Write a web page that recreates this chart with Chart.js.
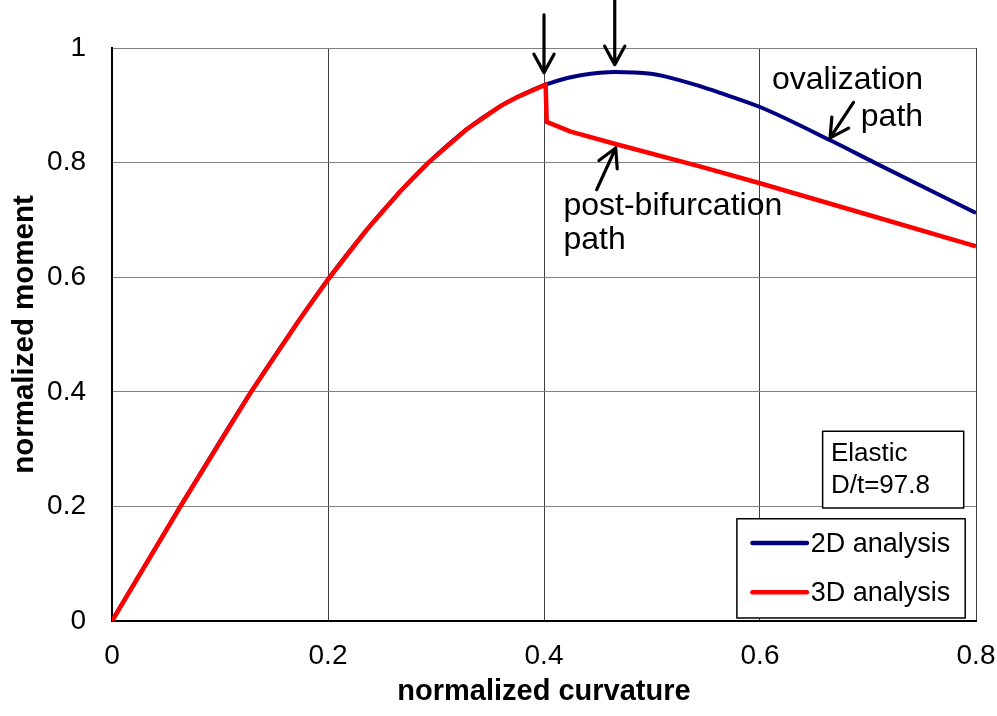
<!DOCTYPE html>
<html>
<head>
<meta charset="utf-8">
<title>normalized moment vs curvature</title>
<script src="https://cdn.jsdelivr.net/npm/chart.js@4.4.1/dist/chart.umd.min.js"></script>
<style>
    html, body { margin: 0; padding: 0; background: #fff; }
</style>
</head>
<body>
<canvas id="momentChart" width="997" height="716"></canvas>
<script>
// Pre-buckling path, shared by the 2D and 3D analyses
const loadCurv = [0, 0.064, 0.1295, 0.174, 0.2, 0.236, 0.267, 0.293, 0.329, 0.36, 0.375, 0.4015];
const loadMom  = [0, 0.202, 0.402, 0.527, 0.596, 0.683, 0.75, 0.8, 0.859, 0.899, 0.914, 0.936];

// 2D analysis: ovalization path
const ovalCurv = [0.4216, 0.434, 0.466, 0.499, 0.511, 0.545, 0.561, 0.6, 0.666, 0.706, 0.8];
const ovalMom  = [0.9476, 0.9525, 0.958, 0.955, 0.951, 0.933, 0.923, 0.897, 0.838, 0.8, 0.712];

// 3D analysis: post-bifurcation path
const bifCurv = [0.4025, 0.4247, 0.467, 0.545, 0.6, 0.7, 0.8];
const bifMom  = [0.871, 0.854, 0.832, 0.793, 0.764, 0.709, 0.654];

// Axis ticks
const curvTicks = [0, 0.2, 0.4, 0.6, 0.8];
const momTicks  = [0, 0.2, 0.4, 0.6, 0.8, 1];

const FONT = '"Liberation Sans", Arial, Helvetica, sans-serif';

function toPoints(xs, ys) {
    return xs.map((x, i) => ({ x: x, y: ys[i] }));
}

function drawArrow(ctx, x1, y1, x2, y2) {
    const ang = Math.atan2(y2 - y1, x2 - x1);
    const head = 21;
    const spread = 0.5;
    ctx.beginPath();
    ctx.moveTo(x1, y1);
    ctx.lineTo(x2, y2);
    ctx.moveTo(x2 - head * Math.cos(ang - spread), y2 - head * Math.sin(ang - spread));
    ctx.lineTo(x2, y2);
    ctx.lineTo(x2 - head * Math.cos(ang + spread), y2 - head * Math.sin(ang + spread));
    ctx.stroke();
}

// Arrows, labels, parameter box and legend
const annotationPlugin = {
    id: 'annotations',
    afterDraw(chart) {
        const { ctx } = chart;
        const px = v => chart.scales.x.getPixelForValue(v);
        const py = v => chart.scales.y.getPixelForValue(v);

        ctx.save();
        ctx.strokeStyle = '#000';
        ctx.fillStyle = '#000';
        ctx.lineWidth = 3.2;
        ctx.lineCap = 'round';
        ctx.lineJoin = 'round';

        // bifurcation and limit-moment arrows
        drawArrow(ctx, px(0.4), py(1.058), px(0.4), py(0.957));
        drawArrow(ctx, px(0.4655), py(1.084), px(0.4655), py(0.971));
        // path arrows
        drawArrow(ctx, px(0.6866), py(0.905), px(0.6649), py(0.843));
        drawArrow(ctx, px(0.4488), py(0.7527), px(0.4664), py(0.8255));

        // path labels
        ctx.font = '32px ' + FONT;
        ctx.textBaseline = 'alphabetic';
        ctx.textAlign = 'right';
        ctx.fillText('ovalization', px(0.751), py(0.929));
        ctx.fillText('path', px(0.751), py(0.864));
        ctx.textAlign = 'left';
        ctx.fillText('post-bifurcation', px(0.418), py(0.708));
        ctx.fillText('path', px(0.418), py(0.649));

        // parameter box
        ctx.lineWidth = 1.5;
        ctx.lineCap = 'butt';
        ctx.fillStyle = '#fff';
        ctx.fillRect(px(0.658), py(0.331), px(0.7886) - px(0.658), py(0.197) - py(0.331));
        ctx.strokeRect(px(0.658), py(0.331), px(0.7886) - px(0.658), py(0.197) - py(0.331));
        ctx.fillStyle = '#000';
        ctx.font = '26px ' + FONT;
        ctx.fillText('Elastic', px(0.6657), py(0.2785));
        ctx.fillText('D/t=97.8', px(0.6657), py(0.2234));

        // legend
        const lx0 = px(0.5786), lx1 = px(0.79);
        const ly0 = py(0.1785), ly1 = py(0.0052);
        ctx.fillStyle = '#fff';
        ctx.fillRect(lx0, ly0, lx1 - lx0, ly1 - ly0);
        ctx.strokeRect(lx0, ly0, lx1 - lx0, ly1 - ly0);
        const rows = [0.136, 0.05];
        ctx.font = '27px ' + FONT;
        ctx.textBaseline = 'middle';
        chart.data.datasets.forEach((ds, i) => {
            const ly = py(rows[i]);
            ctx.strokeStyle = ds.borderColor;
            ctx.lineWidth = 4.5;
            ctx.lineCap = 'round';
            ctx.beginPath();
            ctx.moveTo(px(0.593), ly);
            ctx.lineTo(px(0.6434), ly);
            ctx.stroke();
            ctx.fillStyle = '#000';
            ctx.fillText(ds.label, px(0.647), ly + 1);
        });
        ctx.restore();
    }
};

const ctx = document.getElementById('momentChart');
const momentChart = new Chart(ctx.getContext('2d'), {
    type: 'line',
    data: {
        datasets: [{
            label: '2D analysis',
            data: toPoints(loadCurv.concat(ovalCurv), loadMom.concat(ovalMom)),
            borderColor: '#000080',
            borderWidth: 4,
            cubicInterpolationMode: 'monotone',
            order: 1
        }, {
            label: '3D analysis',
            data: toPoints(loadCurv.concat(bifCurv), loadMom.concat(bifMom)),
            borderColor: '#FF0000',
            borderWidth: 4.5,
            tension: 0,
            order: 0
        }]
    },
    options: {
        responsive: false,
        devicePixelRatio: 1,
        animation: false,
        layout: {
            padding: { left: 0, top: 48, right: 21, bottom: 0 }
        },
        elements: {
            point: { radius: 0, hoverRadius: 0 },
            line: { fill: false, borderJoinStyle: 'round' }
        },
        plugins: {
            legend: { display: false },
            tooltip: { enabled: false }
        },
        scales: {
            x: {
                type: 'linear',
                min: 0,
                max: 0.8,
                afterFit: scale => {
                    scale.height = 95;
                    scale.paddingLeft = 0;
                    scale.paddingRight = 0;
                },
                afterBuildTicks: scale => { scale.ticks = curvTicks.map(v => ({ value: v })); },
                ticks: {
                    color: '#000',
                    padding: 18,
                    maxRotation: 0,
                    callback: v => String(v),
                    font: { family: FONT, size: 28 }
                },
                grid: { color: '#404040', lineWidth: 1, drawTicks: false },
                border: { color: '#000', width: 2 },
                title: {
                    display: true,
                    text: 'normalized curvature',
                    color: '#000',
                    padding: { top: 0, bottom: 6.5 },
                    font: { family: FONT, size: 29, weight: 'bold' }
                }
            },
            y: {
                type: 'linear',
                min: 0,
                max: 1,
                afterFit: scale => {
                    scale.width = 112;
                    scale.paddingTop = 0;
                    scale.paddingBottom = 0;
                },
                afterBuildTicks: scale => { scale.ticks = momTicks.map(v => ({ value: v })); },
                ticks: {
                    color: '#000',
                    padding: 26,
                    callback: v => String(v),
                    font: { family: FONT, size: 28 }
                },
                grid: { color: '#808080', lineWidth: 1, drawTicks: false },
                border: { color: '#000', width: 2 },
                title: {
                    display: true,
                    text: 'normalized moment',
                    color: '#000',
                    padding: { top: 7, bottom: 0 },
                    font: { family: FONT, size: 29.5, weight: 'bold' }
                }
            }
        }
    },
    plugins: [annotationPlugin]
});
</script>
</body>
</html>
